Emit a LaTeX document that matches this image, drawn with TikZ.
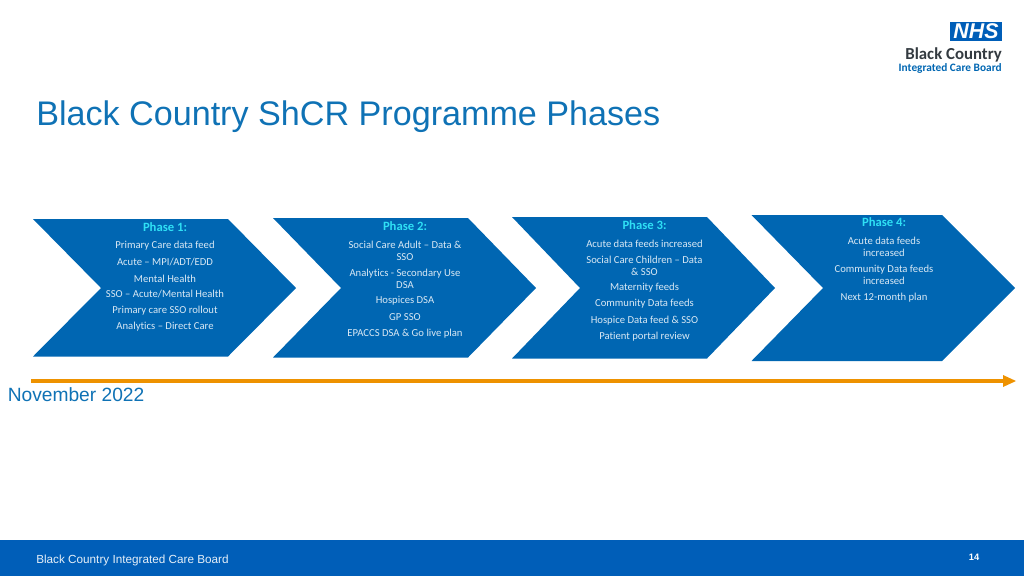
\documentclass[tikz,border=0pt]{standalone}
\usepackage{fontspec}
\setmainfont{Liberation Sans}
\newfontfamily\bodyfont[Ligatures=NoCommon]{Carlito}
\usetikzlibrary{positioning}
\definecolor{nhsblue}{HTML}{0066B2}
\definecolor{footblue}{HTML}{005EB8}
\definecolor{titleblue}{HTML}{0F72B5}
\definecolor{phasecyan}{HTML}{2FE0F5}
\definecolor{barorange}{HTML}{EE9200}
\definecolor{logodark}{HTML}{333A40}
\tikzset{
    chevron/.style={fill=nhsblue,draw=none},
    phasehead/.style={font=\bodyfont\bfseries\fontsize{9.5}{11}\selectfont,text=phasecyan,inner sep=0pt},
    phasebody/.style={font=\bodyfont\fontsize{8}{9}\selectfont,text=white!85!nhsblue,align=center,inner sep=0pt},
}
\begin{document}
\begin{tikzpicture}[x=0.75pt,y=-0.75pt]
    \useasboundingbox (0,0) rectangle (1024,576);
    % chevrons
    \fill[chevron] (33,219) -- (228,219) -- (296,288) -- (228,356.5) -- (33,356.5) -- (101,288) -- cycle;
    \fill[chevron] (273,218) -- (468,218) -- (536,288) -- (468,357.5) -- (273,357.5) -- (341,288) -- cycle;
    \fill[chevron] (512,217) -- (707,217) -- (775,288) -- (707,358.5) -- (512,358.5) -- (580,288) -- cycle;
    \fill[chevron] (751.5,215) -- (942,215) -- (1015,288) -- (942,361) -- (751.5,361) -- (823,288) -- cycle;
    % phase labels
    \node[phasehead] (P1) at (165,227) {Phase 1:};
    \node[phasebody] (B11) at (165,246) {Primary Care data feed};
    \node[phasebody] (B12) at (165,262) {Acute – MPI/ADT/EDD};
    \node[phasebody] (B13) at (165,278.5) {Mental Health};
    \node[phasebody] (B14) at (165,294.5) {SSO – Acute/Mental Health};
    \node[phasebody] (B15) at (165,311) {Primary care SSO rollout};
    \node[phasebody] (B16) at (165,327) {Analytics – Direct Care};
    \node[phasehead] (P2) at (405,226) {Phase 2:};
    \node[phasebody] (B21) at (405,250.5) {Social Care Adult – Data \&\\SSO};
    \node[phasebody] (B22) at (405,278.5) {Analytics - Secondary Use\\DSA};
    \node[phasebody] (B23) at (405,301) {Hospices DSA};
    \node[phasebody] (B24) at (405,317) {GP SSO};
    \node[phasebody] (B25) at (405,333.5) {EPACCS DSA \& Go live plan};
    \node[phasehead] (P3) at (644.5,225) {Phase 3:};
    \node[phasebody] (B31) at (644.5,243.5) {Acute data feeds increased};
    \node[phasebody] (B32) at (644.5,265.5) {Social Care Children – Data\\\& SSO};
    \node[phasebody] (B33) at (644.5,288) {Maternity feeds};
    \node[phasebody] (B34) at (644.5,304) {Community Data feeds};
    \node[phasebody] (B35) at (644.5,320.5) {Hospice Data feed \& SSO};
    \node[phasebody] (B36) at (644.5,336.5) {Patient portal review};
    \node[phasehead] (P4) at (884,222) {Phase 4:};
    \node[phasebody] (B41) at (884,247) {Acute data feeds\\increased};
    \node[phasebody] (B42) at (884,275) {Community Data feeds\\increased};
    \node[phasebody] (B43) at (884,297.5) {Next 12-month plan};
    % timeline
    \coordinate (T0) at (31,381);
    \coordinate (T1) at (1004,381);
    \draw[barorange,line width=3pt] (T0) -- (T1);
    \fill[barorange] (1003,375) -- (1016,381) -- (1003,387) -- cycle;
    \node[anchor=west,inner sep=0pt,text=titleblue,font=\fontsize{14.4}{16}\selectfont] (NOV) at (7.5,394.5) {November 2022};
    % title
    \node[anchor=west,inner sep=0pt,text=titleblue,font=\fontsize{25.6}{30}\selectfont] (TT) at (36,116.5) {Black Country ShCR Programme Phases};
    % logo
    \fill[footblue] (950,21.5) rectangle (1002,41);
    \node[inner sep=0pt,text=white,font=\bfseries\itshape\fontsize{16}{17}\selectfont] (NHS) at (976,31.5) {NHS};
    \node[anchor=east,inner sep=0pt,text=logodark,font=\bodyfont\bfseries\fontsize{12.6}{14}\selectfont] (BC) at (1002,54.5) {Black Country};
    \node[anchor=east,inner sep=0pt,text=nhsblue,font=\bodyfont\bfseries\fontsize{8.5}{10}\selectfont] (ICB) at (1002,68.5) {Integrated Care Board};
    % footer
    \fill[footblue] (0,540) rectangle (1024,576);
    \node[anchor=west,inner sep=0pt,text=white!90!footblue,font=\fontsize{8.8}{11}\selectfont] (FT) at (36,560) {Black Country Integrated Care Board};
    \node[inner sep=0pt,text=white,font=\bfseries\fontsize{7}{9}\selectfont] (PG) at (974,557.5) {14};
\end{tikzpicture}
\end{document}
